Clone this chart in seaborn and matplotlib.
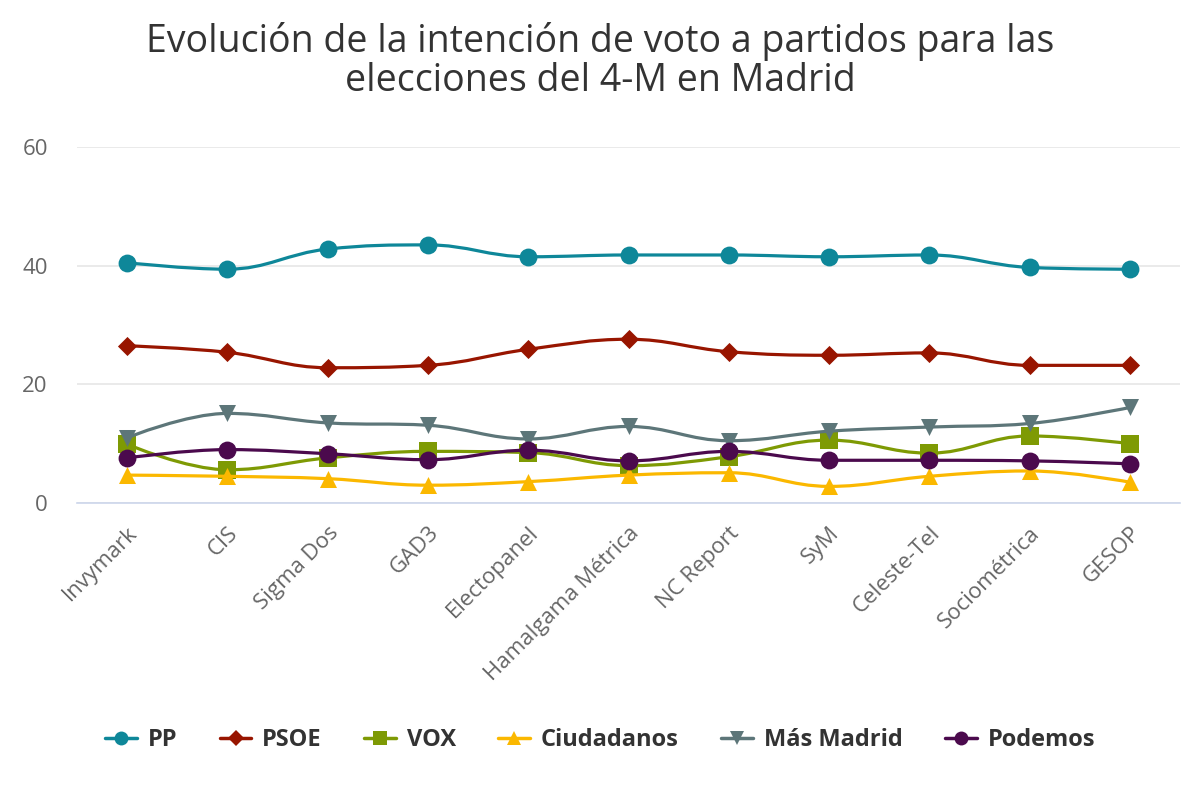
import numpy as np
import pandas as pd
import matplotlib
matplotlib.use("Agg")
import matplotlib.pyplot as plt
import seaborn as sns
from matplotlib.path import Path
from matplotlib.patches import PathPatch
from matplotlib.lines import Line2D

encuestas = ["Invymark", "CIS", "Sigma Dos", "GAD3", "Electopanel", "Hamalgama Métrica",
             "NC Report", "SyM", "Celeste-Tel", "Sociométrica", "GESOP"]
pp = [40.5, 39.4, 42.8, 43.5, 41.5, 41.8, 41.8, 41.5, 41.8, 39.7, 39.4]
psoe = [26.5, 25.4, 22.8, 23.2, 25.9, 27.6, 25.5, 24.9, 25.3, 23.2, 23.2]
vox = [9.9, 5.6, 7.6, 8.7, 8.5, 6.3, 7.8, 10.6, 8.4, 11.3, 10.0]
cs = [4.7, 4.5, 4.1, 3.0, 3.6, 4.7, 5.1, 2.8, 4.5, 5.4, 3.5]
mas_madrid = [11.0, 15.1, 13.5, 13.1, 10.8, 12.9, 10.5, 12.1, 12.8, 13.4, 16.1]
podemos = [7.6, 9.0, 8.3, 7.3, 8.9, 7.1, 8.7, 7.2, 7.2, 7.1, 6.6]

partidos = ["PP", "PSOE", "VOX", "Ciudadanos", "Más Madrid", "Podemos"]
valores = [pp, psoe, vox, cs, mas_madrid, podemos]
colores = ["#0e8799", "#981500", "#7e9a04", "#fbb800", "#5d7679", "#4b0a4d"]
marcadores = ["o", "D", "s", "^", "v", "o"]
tamanos = [165, 95, 160, 150, 150, 165]

df = pd.DataFrame({"pos": list(range(len(encuestas))) * len(partidos),
                   "valor": sum(valores, []),
                   "partido": np.repeat(partidos, len(encuestas))})


def spline_path(xs, ys, smoothing=1.5, denom=2.5):
    # curva suave tipo "spline" (puntos de control como Highcharts)
    n = len(xs)
    left = [(xs[i], ys[i]) for i in range(n)]
    right = [(xs[i], ys[i]) for i in range(n)]
    for i in range(1, n - 1):
        px, py = xs[i], ys[i]
        lx, ly = xs[i - 1], ys[i - 1]
        nx, ny = xs[i + 1], ys[i + 1]
        lcx = (smoothing * px + lx) / denom
        lcy = (smoothing * py + ly) / denom
        rcx = (smoothing * px + nx) / denom
        rcy = (smoothing * py + ny) / denom
        if rcx != lcx:
            corr = (rcy - lcy) * (rcx - px) / (rcx - lcx) + py - rcy
            lcy += corr
            rcy += corr
        if lcy > max(ly, py):
            lcy = max(ly, py)
            rcy = 2 * py - lcy
        elif lcy < min(ly, py):
            lcy = min(ly, py)
            rcy = 2 * py - lcy
        if rcy > max(py, ny):
            rcy = max(py, ny)
            lcy = 2 * py - rcy
        elif rcy < min(py, ny):
            rcy = min(py, ny)
            lcy = 2 * py - rcy
        left[i] = (lcx, lcy)
        right[i] = (rcx, rcy)
    verts = [(xs[0], ys[0])]
    codes = [Path.MOVETO]
    for i in range(1, n):
        verts += [right[i - 1], left[i], (xs[i], ys[i])]
        codes += [Path.CURVE4] * 3
    return Path(verts, codes)


sns.set_style("white")
plt.rcParams["font.family"] = ["Open Sans", "DejaVu Sans"]

fig = plt.figure(figsize=(12, 8), dpi=100)
ax = fig.add_axes([77 / 1200, 1 - 503 / 800, 1103 / 1200, 356 / 800])

for k, (nombre, col, mk, s) in enumerate(zip(partidos, colores, marcadores, tamanos)):
    sub = df[df["partido"] == nombre]
    path = spline_path(sub["pos"].tolist(), sub["valor"].tolist())
    ax.add_patch(PathPatch(path, fill=False, edgecolor=col, lw=2.3, zorder=3 + 2 * k,
                           capstyle="round", joinstyle="round"))
    sns.scatterplot(data=sub, x="pos", y="valor", color=col, marker=mk, s=s,
                    linewidth=0, ax=ax, zorder=4 + 2 * k, legend=False)

ax.set_xlim(-0.5, len(encuestas) - 0.5)
ax.set_ylim(0, 60)
ax.set_yticks([0, 20, 40, 60])
ax.yaxis.grid(True, color="#e6e6e6", lw=1.2)
ax.set_axisbelow(True)
for side in ["top", "right", "left"]:
    ax.spines[side].set_visible(False)
ax.spines["bottom"].set_color("#ccd6eb")
ax.spines["bottom"].set_linewidth(1.2)

ax.set_xticks(range(len(encuestas)))
ax.set_xticklabels(encuestas, rotation=45, ha="right", rotation_mode="anchor",
                   fontsize=16, color="#666666")
ax.set_xticks(np.arange(-0.5, len(encuestas)), minor=True)
ax.tick_params(axis="x", which="major", length=0, pad=14)
ax.tick_params(axis="x", which="minor", length=11, width=1.2, color="#ccd6eb")
ax.tick_params(axis="y", length=0, pad=21, labelsize=16, labelcolor="#666666")
ax.set_xlabel("")
ax.set_ylabel("")

fig.suptitle("Evolución de la intención de voto a partidos para las\nelecciones del 4-M en Madrid",
             y=0.973, fontsize=27, color="#333333", linespacing=1.05)

handles = [Line2D([0], [0], color=c, lw=2.5, marker=m, markersize=10 if m != "D" else 8,
                  markeredgewidth=0) for c, m in zip(colores, marcadores)]
leg = fig.legend(handles, partidos, loc="center", bbox_to_anchor=(0.5, 1 - 740 / 800), ncol=6,
                 frameon=False, handlelength=1.35, columnspacing=1.8, handletextpad=0.45,
                 prop={"size": 17, "weight": "bold"})
for t in leg.get_texts():
    t.set_color("#333333")

fig.savefig("out.png", dpi=100, facecolor="white")
